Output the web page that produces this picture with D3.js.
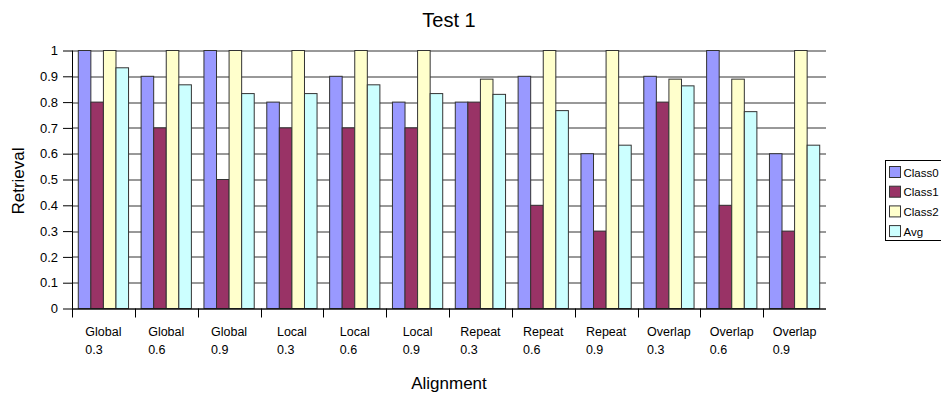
<!DOCTYPE html>
<html>
<head>
<meta charset="utf-8">
<script src="https://cdn.jsdelivr.net/npm/d3@7"></script>
<style>
  body { margin: 0; background: #fff; }
  svg { font-family: "Liberation Sans", Arial, sans-serif; }
</style>
</head>
<body>
<svg id="drawing_region"></svg>
<script>
// categories: method / threshold pairs
const methods = ['Global', 'Global', 'Global', 'Local', 'Local', 'Local',
                 'Repeat', 'Repeat', 'Repeat', 'Overlap', 'Overlap', 'Overlap'];
const thresholds = ['0.3', '0.6', '0.9', '0.3', '0.6', '0.9',
                    '0.3', '0.6', '0.9', '0.3', '0.6', '0.9'];
const seriesNames = ['Class0', 'Class1', 'Class2', 'Avg'];

const class0 = [1, 0.9, 1, 0.8, 0.9, 0.8, 0.8, 0.9, 0.6, 0.9, 1, 0.6];
const class1 = [0.8, 0.7, 0.5, 0.7, 0.7, 0.7, 0.8, 0.4, 0.3, 0.8, 0.4, 0.3];
const class2 = [1, 1, 1, 1, 1, 1, 0.889, 1, 1, 0.889, 0.889, 1];
const avg    = [0.933, 0.867, 0.833, 0.833, 0.867, 0.833, 0.83, 0.767, 0.633, 0.863, 0.763, 0.633];

const yTicks = [0, 0.1, 0.2, 0.3, 0.4, 0.5, 0.6, 0.7, 0.8, 0.9, 1];

const colors = ['#9999ff', '#993366', '#ffffcc', '#ccffff'];

const values = [class0, class1, class2, avg];
const data = methods.map((m, i) => ({
    key: i,
    method: m,
    thr: thresholds[i],
    vals: seriesNames.map((s, j) => ({ name: s, value: values[j][i] }))
}));

const width = 941, height = 397;
const margin = { top: 50.5, right: 115, bottom: 88.5, left: 72 };
const innerW = width - margin.left - margin.right;
const innerH = height - margin.top - margin.bottom;

const svg = d3.select('#drawing_region')
    .attr('width', width)
    .attr('height', height);

const chart = svg.append('g')
    .attr('transform', `translate(${margin.left}, ${margin.top})`);

const x0 = d3.scaleBand()
    .domain(data.map(d => d.key))
    .range([0, innerW])
    .paddingInner(0.2)
    .paddingOuter(0.1);

const x1 = d3.scaleBand()
    .domain(seriesNames)
    .range([0, x0.bandwidth()]);

const yscale = d3.scaleLinear()
    .domain([0, 1])
    .range([innerH, 0]);

const step = innerW / data.length;

// horizontal grid lines
chart.append('g')
    .selectAll('line')
    .data(yTicks)
    .join('line')
    .attr('x1', 0)
    .attr('x2', innerW)
    .attr('y1', d => Math.round(yscale(d)) + 0.5)
    .attr('y2', d => Math.round(yscale(d)) + 0.5)
    .attr('stroke', '#333')
    .attr('stroke-width', 1);

// bars
const groups = chart.append('g')
    .selectAll('g')
    .data(data)
    .join('g')
    .attr('transform', d => `translate(${x0(d.key)}, 0)`);

groups.selectAll('rect')
    .data(d => d.vals)
    .join('rect')
    .attr('x', d => x1(d.name))
    .attr('y', d => yscale(d.value))
    .attr('width', x1.bandwidth())
    .attr('height', d => innerH - yscale(d.value))
    .attr('fill', (d, i) => colors[i])
    .attr('stroke', '#333')
    .attr('stroke-width', 1);

// y axis
const yaxis = d3.axisLeft(yscale)
    .tickValues(yTicks)
    .tickFormat(d => d === 0 ? '0' : d === 1 ? '1' : d3.format('.1f')(d))
    .tickSize(9)
    .tickPadding(5);

const yg = chart.append('g').call(yaxis);
yg.select('.domain').attr('d', `M0.5,0V${innerH}`).attr('stroke', '#000');
yg.selectAll('.tick line').attr('stroke', '#000');
yg.selectAll('.tick text')
    .attr('fill', '#000')
    .style('font-size', '13px')
    .attr('font-family', '"Liberation Sans", Arial, sans-serif');

// x axis line and boundary ticks
chart.append('line')
    .attr('x1', 0).attr('x2', innerW)
    .attr('y1', innerH + 0.5).attr('y2', innerH + 0.5)
    .attr('stroke', '#000');

chart.append('g')
    .selectAll('line')
    .data(data)
    .join('line')
    .attr('x1', (d, i) => Math.round(i * step) + 0.5)
    .attr('x2', (d, i) => Math.round(i * step) + 0.5)
    .attr('y1', innerH)
    .attr('y2', innerH + 9)
    .attr('stroke', '#000');

// x category labels (two lines, left aligned block, centred in slot)
const labels = chart.append('g')
    .selectAll('text')
    .data(data)
    .join('text')
    .style('font-size', '12.5px')
    .attr('fill', '#000');

labels.append('tspan')
    .attr('x', 0)
    .attr('y', innerH + 27)
    .text(d => d.method);
labels.append('tspan')
    .attr('x', 0)
    .attr('y', innerH + 45)
    .text(d => d.thr);

labels.each(function(d, i) {
    const t = d3.select(this);
    let w = 0;
    t.selectAll('tspan').each(function() {
        w = Math.max(w, this.getComputedTextLength());
    });
    const left = (i + 0.5) * step - w / 2;
    t.selectAll('tspan').attr('x', left);
});

// title
svg.append('text')
    .attr('x', 449)
    .attr('y', 27)
    .attr('text-anchor', 'middle')
    .style('font-size', '20px')
    .text('Test 1');

// x axis label
svg.append('text')
    .attr('x', 449)
    .attr('y', 389)
    .attr('text-anchor', 'middle')
    .style('font-size', '17px')
    .text('Alignment');

// y axis label
svg.append('text')
    .attr('transform', 'rotate(-90)')
    .attr('x', -181)
    .attr('y', 24)
    .attr('text-anchor', 'middle')
    .style('font-size', '17px')
    .text('Retrieval');

// legend
const legend = svg.append('g')
    .attr('transform', 'translate(885.5, 160.5)');

legend.append('rect')
    .attr('width', 60)
    .attr('height', 80)
    .attr('fill', '#fff')
    .attr('stroke', '#000');

const items = legend.selectAll('g')
    .data(seriesNames)
    .join('g')
    .attr('transform', (d, i) => `translate(4, ${6 + i * 19.7})`);

items.append('rect')
    .attr('width', 11)
    .attr('height', 11)
    .attr('fill', (d, i) => colors[i])
    .attr('stroke', '#333');

items.append('text')
    .attr('x', 14)
    .attr('y', 10)
    .style('font-size', '11.5px')
    .text(d => d);
</script>
</body>
</html>
